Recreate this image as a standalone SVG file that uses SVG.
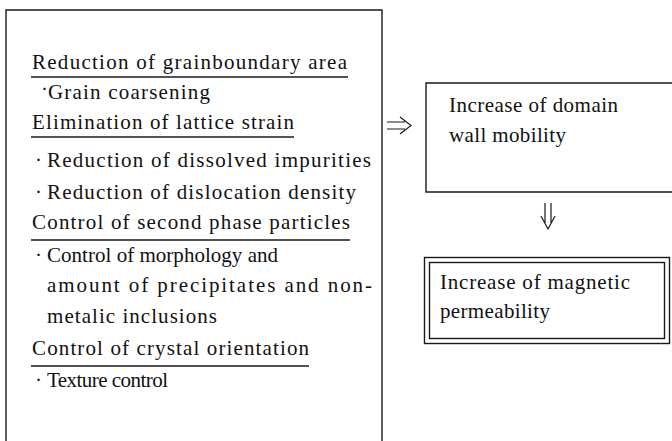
<svg xmlns="http://www.w3.org/2000/svg" width="672" height="441" viewBox="0 0 672 441">
<style>
.t{font-family:"Liberation Serif","Times New Roman",serif;font-size:21px;fill:#111}
.box{fill:none;stroke:#1a1a1a;stroke-width:1.4}
.ul{stroke:#1a1a1a;stroke-width:1.4}
.arr{fill:none;stroke:#1a1a1a;stroke-width:1.2}
</style>
<rect width="672" height="441" fill="#fff"/>
<g id="causes">
<path class="box" d="M6,449 V10 H382 V449"/>
<text class="t" x="32" y="69" textLength="315" lengthAdjust="spacing">Reduction of grainboundary area</text>
<line class="ul" x1="31" y1="77" x2="348" y2="77"/>
<text class="t" x="41" y="96">·</text>
<text class="t" x="48" y="99" textLength="162" lengthAdjust="spacing">Grain coarsening</text>
<text class="t" x="32" y="129" textLength="262" lengthAdjust="spacing">Elimination of lattice strain</text>
<line class="ul" x1="31" y1="137" x2="294" y2="137"/>
<text class="t" x="35" y="167">·</text>
<text class="t" x="47" y="167" textLength="324" lengthAdjust="spacing">Reduction of dissolved impurities</text>
<text class="t" x="35" y="199">·</text>
<text class="t" x="47" y="199" textLength="309" lengthAdjust="spacing">Reduction of dislocation density</text>
<text class="t" x="32" y="229" textLength="318" lengthAdjust="spacing">Control of second phase particles</text>
<line class="ul" x1="31" y1="240" x2="350" y2="240"/>
<text class="t" x="35" y="262">·</text>
<text class="t" x="47" y="262" textLength="231" lengthAdjust="spacing">Control of morphology and</text>
<text class="t" x="47" y="292" textLength="325" lengthAdjust="spacing">amount of precipitates and non-</text>
<text class="t" x="47" y="323" textLength="170" lengthAdjust="spacing">metalic inclusions</text>
<text class="t" x="32" y="355" textLength="277" lengthAdjust="spacing">Control of crystal orientation</text>
<line class="ul" x1="31" y1="366" x2="309" y2="366"/>
<text class="t" x="35" y="387">·</text>
<text class="t" x="47" y="387" textLength="121" lengthAdjust="spacing">Texture control</text>
</g>
<g id="domain">
<path class="box" d="M690,83 H426 V192 H690"/>
<text class="t" x="449" y="112" textLength="169" lengthAdjust="spacing">Increase of domain</text>
<text class="t" x="449" y="142" textLength="117" lengthAdjust="spacing">wall mobility</text>
</g>
<g id="permeability">
<rect class="box" x="424.5" y="257.5" width="245" height="86"/>
<rect class="box" x="429.5" y="262.5" width="235" height="76" stroke-width="1"/>
<text class="t" x="440" y="289" textLength="190" lengthAdjust="spacing">Increase of magnetic</text>
<text class="t" x="440" y="318" textLength="110" lengthAdjust="spacing">permeability</text>
</g>
<g id="connectors">
<path class="arr" d="M387,122 H405 M387,129 H405 M400,117 L411,125.5 L400,134"/>
<path class="arr" d="M545,203 V223 M551,203 V223 M541,216 L548,229 L555,216"/>
</g>
</svg>
